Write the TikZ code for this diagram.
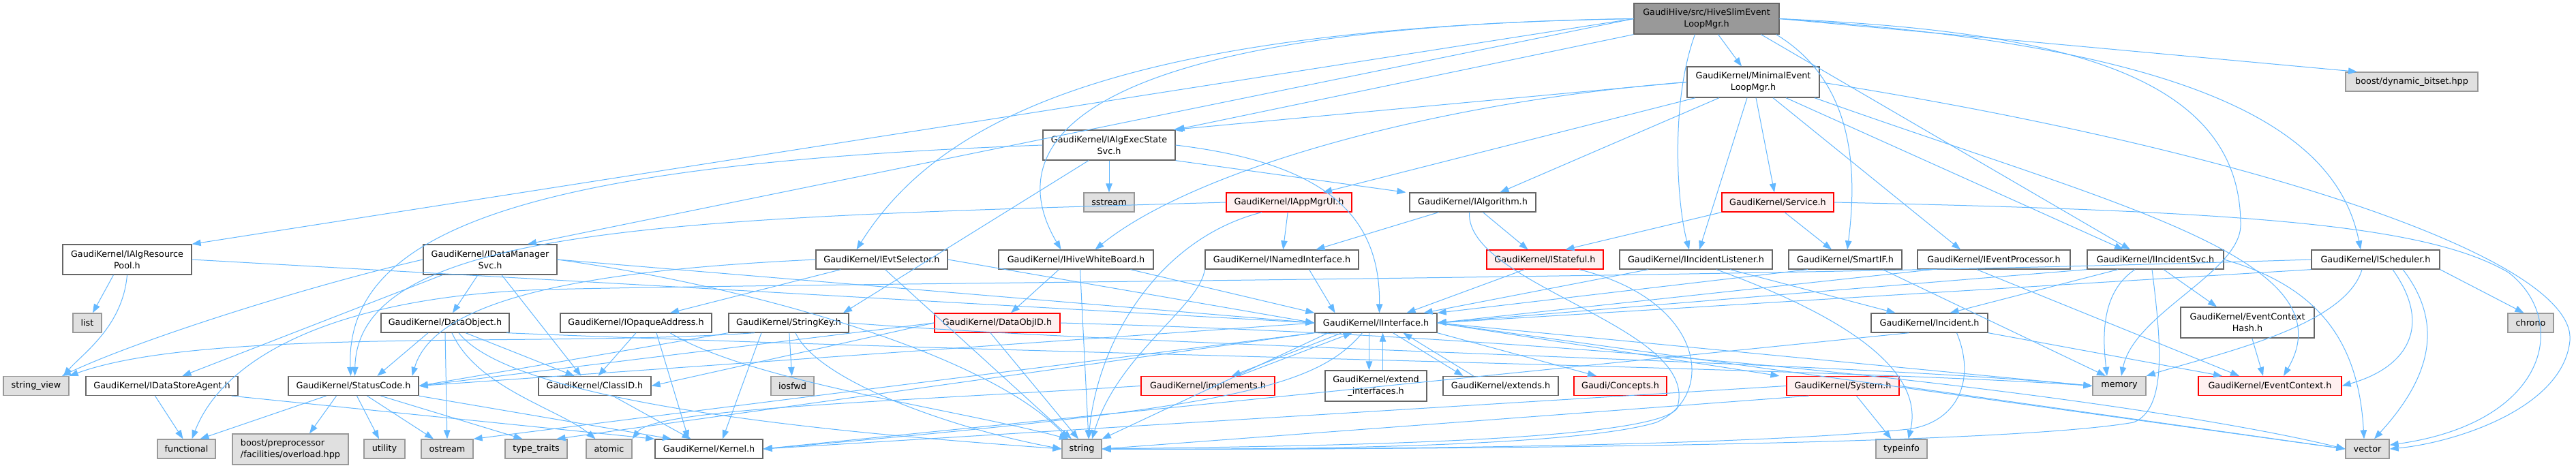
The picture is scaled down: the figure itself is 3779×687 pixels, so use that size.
\documentclass[tikz,border=0pt]{standalone}
\usepackage{fontspec}
\setmainfont{DejaVu Sans}
\usetikzlibrary{arrows.meta}
\definecolor{edgec}{HTML}{63B8FF}
\definecolor{bord}{HTML}{666666}
\definecolor{gbord}{HTML}{999999}
\definecolor{gfill}{HTML}{E0E0E0}
\definecolor{rfill}{HTML}{FFF0F0}
\definecolor{rootfill}{HTML}{999999}
\tikzset{
 base/.style={draw, line width=1.3pt, inner sep=0pt, minimum height=28pt, font=\fontsize{12.8}{17}\selectfont, align=center, text=black},
 wn/.style={base, draw=bord, fill=white},
 gn/.style={base, draw=gbord, fill=gfill},
 rn/.style={base, draw=red, fill=rfill},
 rootn/.style={base, draw=bord, fill=rootfill},
 e/.style={draw=edgec, line width=1.0pt, -{Triangle[length=13pt,width=9.5pt]}},
}
\begin{document}
\begin{tikzpicture}[x=1pt,y=-1pt]
\useasboundingbox (0,0) rectangle (3779,687);
\fill[white] (0,0) rectangle (3779,687);
% ---------- nodes ----------
\node[rootn, minimum width=213, minimum height=45] (hs) at (2503.5,27.5) {GaudiHive/src/HiveSlimEvent\\LoopMgr.h};
\node[wn, minimum width=194, minimum height=45] (mel) at (2572,120.5) {GaudiKernel/MinimalEvent\\LoopMgr.h};
\node[wn, minimum width=194, minimum height=44] (iaes) at (1627,213) {GaudiKernel/IAlgExecState\\Svc.h};
\node[gn, minimum width=74] (sstream) at (1627,297) {sstream};
\node[rn, minimum width=184] (iappmgrui) at (1891,297) {GaudiKernel/IAppMgrUI.h};
\node[wn, minimum width=185] (ialg) at (2160.5,297) {GaudiKernel/IAlgorithm.h};
\node[rn, minimum width=164] (service) at (2608,297) {GaudiKernel/Service.h};
\node[gn, minimum width=194] (dynbitset) at (3538,120) {boost/dynamic\_bitset.hpp};
\node[wn, minimum width=189, minimum height=44] (iars) at (186.5,381) {GaudiKernel/IAlgResource\\Pool.h};
\node[wn, minimum width=196, minimum height=44] (idms) at (719,381) {GaudiKernel/IDataManager\\Svc.h};
\node[wn, minimum width=193] (ievts) at (1293.5,381) {GaudiKernel/IEvtSelector.h};
\node[wn, minimum width=227] (ihwb) at (1578.5,381) {GaudiKernel/IHiveWhiteBoard.h};
\node[wn, minimum width=225] (inamed) at (1880.5,381) {GaudiKernel/INamedInterface.h};
\node[rn, minimum width=171] (istateful) at (2266.5,381) {GaudiKernel/IStateful.h};
\node[wn, minimum width=224] (iil) at (2488,381) {GaudiKernel/IIncidentListener.h};
\node[wn, minimum width=166] (smartif) at (2707,381) {GaudiKernel/SmartIF.h};
\node[wn, minimum width=224] (ievproc) at (2925,381) {GaudiKernel/IEventProcessor.h};
\node[wn, minimum width=200] (iisvc) at (3162,381) {GaudiKernel/IIncidentSvc.h};
\node[wn, minimum width=188] (isched) at (3485,381) {GaudiKernel/IScheduler.h};
\node[gn, minimum width=42] (list) at (128,474) {list};
\node[wn, minimum width=188] (dataobj) at (653,474) {GaudiKernel/DataObject.h};
\node[wn, minimum width=222] (iopaque) at (933,474) {GaudiKernel/IOpaqueAddress.h};
\node[wn, minimum width=176] (stringkey) at (1157,474) {GaudiKernel/StringKey.h};
\node[rn, minimum width=184] (dataobjid) at (1463,474) {GaudiKernel/DataObjID.h};
\node[wn, minimum width=179] (iint) at (2018.5,474) {GaudiKernel/IInterface.h};
\node[wn, minimum width=171] (incident) at (2830.5,474) {GaudiKernel/Incident.h};
\node[wn, minimum width=196, minimum height=45] (ecthash) at (3297,473.5) {GaudiKernel/EventContext\\Hash.h};
\node[gn, minimum width=67] (chrono) at (3712.5,474) {chrono};
\node[gn, minimum width=96] (strview) at (53,566.5) {string\_view};
\node[wn, minimum width=223] (idsa) at (237.5,566.5) {GaudiKernel/IDataStoreAgent.h};
\node[wn, minimum width=191] (statuscode) at (518.5,566.5) {GaudiKernel/StatusCode.h};
\node[wn, minimum width=165] (classid) at (872.5,566.5) {GaudiKernel/ClassID.h};
\node[gn, minimum width=63] (iosfwd) at (1162.5,566.5) {iosfwd};
\node[rn, minimum width=196] (implements) at (1772,566.5) {GaudiKernel/implements.h};
\node[wn, minimum width=149, minimum height=45] (extif) at (2018.5,566.5) {GaudiKernel/extend\\\_interfaces.h};
\node[wn, minimum width=169] (extends) at (2201.5,566.5) {GaudiKernel/extends.h};
\node[rn, minimum width=136] (concepts) at (2377,566.5) {Gaudi/Concepts.h};
\node[rn, minimum width=165] (system) at (2703.5,566.5) {GaudiKernel/System.h};
\node[gn, minimum width=78] (memory) at (3109,566.5) {memory};
\node[rn, minimum width=210] (eventcontext) at (3330,566.5) {GaudiKernel/EventContext.h};
\node[gn, minimum width=85] (functional) at (273.5,659) {functional};
\node[gn, minimum width=170, minimum height=45, align=left] (boostpp) at (426,659.5) {boost/preprocessor\\/facilities/overload.hpp};
\node[gn, minimum width=60] (utility) at (564,659) {utility};
\node[gn, minimum width=76] (ostream) at (656,659) {ostream};
\node[gn, minimum width=91] (typetraits) at (786.5,659) {type\_traits};
\node[gn, minimum width=67] (atomic) at (893.5,659) {atomic};
\node[wn, minimum width=158] (kernel) at (1040,659) {GaudiKernel/Kernel.h};
\node[gn, minimum width=58] (string) at (1587,659) {string};
\node[gn, minimum width=75] (typeinfo) at (2789.5,659) {typeinfo};
\node[gn, minimum width=64] (vector) at (3473,659) {vector};
% ---------- edges from root ----------
\draw[e] (hs.west) -- (iars.north east);
\draw[e] (hs.west) -- ([xshift=55]idms.north);
\draw[e] (hs.west) .. controls (1650,40) and (1380,170) .. ([xshift=-37]ievts.north);
\draw[e] (hs.west) .. controls (1550,40) and (1470,220) .. ([xshift=-22]ihwb.north);
\draw[e] (hs.south west) -- (iaes.north east);
\draw[e] (hs) -- (mel);
\draw[e] ([xshift=-17]hs.south) .. controls (2450,150) and (2460,300) .. ([xshift=-10]iil.north);
\draw[e] ([xshift=-5]hs.south east) .. controls (2720,120) and (2725,250) .. ([xshift=3]smartif.north);
\draw[e] ([xshift=80]hs.south) -- ([xshift=-37]iisvc.north);
\draw[e] (hs.east) .. controls (3250,70) and (3430,200) .. ([xshift=-22]isched.north);
\draw[e] (hs.east) .. controls (3000,45) and (3287,100) .. (3287,330) .. controls (3287,400) and (3130,460) .. ([xshift=3]memory.north);
\draw[e] (hs.east) -- ([xshift=-80]dynbitset.north);
% ---------- MinimalEventLoopMgr ----------
\draw[e] (mel.west) -- ([xshift=-3]iaes.north east);
\draw[e] (mel.west) .. controls (2100,150) and (1750,250) .. ([xshift=28]ihwb.north);
\draw[e] ([xshift=-85]mel.south) -- ([xshift=50]iappmgrui.north);
\draw[e] ([xshift=-50]mel.south) -- ([xshift=40]ialg.north);
\draw[e] ([xshift=-9]mel.south) -- ([xshift=5]iil.north);
\draw[e] ([xshift=4]mel.south) -- ([xshift=-5]service.north);
\draw[e] ([xshift=29]mel.south) -- ([xshift=-49]ievproc.north);
\draw[e] ([xshift=48]mel.south) -- ([xshift=-47]iisvc.north);
\draw[e] ([xshift=90]mel.south) .. controls (3100,300) and (3450,380) .. ([xshift=20]eventcontext.north);
\draw[e] (mel.east) .. controls (3300,220) and (3780,380) .. (3770,500) .. controls (3760,600) and (3600,650) .. (vector.east);
% ---------- IAlgExecStateSvc ----------
\draw[e] (iaes.west) .. controls (800,240) and (505,330) .. ([xshift=-4]statuscode.north);
\draw[e] ([xshift=-30]iaes.south) -- ([xshift=80]stringkey.north);
\draw[e] (iaes) -- (sstream);
\draw[e] (iaes.east) .. controls (1950,240) and (2025,320) .. ([xshift=5]iint.north);
\draw[e] (iaes.south east) -- ([xshift=-5]ialg.north west);
% ---------- IAppMgrUI / IAlgorithm / Service ----------
\draw[e] (iappmgrui.west) .. controls (1000,320) and (525,330) .. ([xshift=2]statuscode.north);
\draw[e] ([xshift=-40]iappmgrui.south) .. controls (1700,350) and (1610,500) .. ([xshift=10]string.north);
\draw[e] (iappmgrui) -- (inamed);
\draw[e] ([xshift=-50]ialg.south) -- ([xshift=50]inamed.north);
\draw[e] ([xshift=15]ialg.south) -- ([xshift=-25]istateful.north);
\draw[e] ([xshift=-5]ialg.south) .. controls (2150,420) and (2500,480) .. (2460,600) .. controls (2420,650) and (1900,655) .. (string.east);
\draw[e] (service.south west) -- ([xshift=30]istateful.north);
\draw[e] ([xshift=10]service.south) -- ([xshift=-20]smartif.north);
\draw[e] (service.east) .. controls (3300,310) and (3560,330) .. (3680,400) .. controls (3770,470) and (3740,620) .. (vector.10);
% ---------- second row ----------
\draw[e] (inamed.south west) .. controls (1760,450) and (1640,520) .. ([xshift=15]string.north);
\draw[e] ([xshift=40]inamed.south) -- ([xshift=-60]iint.north);
\draw[e] ([xshift=-30]istateful.south) -- ([xshift=45]iint.north);
\draw[e] ([xshift=50]istateful.south) .. controls (2500,440) and (2520,580) .. (2430,620) .. controls (2300,660) and (1800,660) .. (string.east);
\draw[e] ([xshift=-70]iil.south) -- ([xshift=70]iint.north);
\draw[e] ([xshift=50]iil.south) -- ([xshift=-50]incident.north);
\draw[e] ([xshift=30]iil.south) .. controls (2750,480) and (2820,560) .. ([xshift=10]typeinfo.north);
\draw[e] ([xshift=-55]smartif.south) -- (iint.north east);
\draw[e] ([xshift=55]smartif.south) -- ([xshift=-20]memory.north);
\draw[e] ([xshift=-90]ievproc.south) -- (iint.east);
\draw[e] ([xshift=-25]ievproc.south) -- ([xshift=-45]eventcontext.north);
\draw[e] (iisvc.south west) -- (iint.east);
\draw[e] ([xshift=-55]iisvc.south) -- ([xshift=30]incident.north);
\draw[e] ([xshift=-30]iisvc.south) .. controls (3080,430) and (3085,500) .. ([xshift=-18]memory.north);
\draw[e] ([xshift=-5]iisvc.south) .. controls (3170,500) and (3180,600) .. (3130,620) .. controls (2900,660) and (1800,660) .. (string.east);
\draw[e] ([xshift=12]iisvc.south) -- ([xshift=-45]ecthash.north);
\draw[e] (iisvc.east) .. controls (3400,420) and (3460,500) .. ([xshift=-5]vector.north);
\draw[e] (isched.west) .. controls (2500,410) and (1200,415) .. (800,425) .. controls (500,435) and (330,520) .. ([xshift=8]functional.north);
\draw[e] (isched.south west) -- (iint.east);
\draw[e] ([xshift=-20]isched.south) .. controls (3440,480) and (3250,520) .. (memory.north east);
\draw[e] ([xshift=25]isched.south) .. controls (3570,480) and (3530,540) .. (eventcontext.east);
\draw[e] ([xshift=40]isched.south) .. controls (3590,480) and (3560,560) .. ([xshift=10]vector.north);
\draw[e] (isched.south east) -- ([xshift=-10]chrono.north);
\draw[e] ([xshift=-20]iars.south) -- (list);
\draw[e] (iars.south) .. controls (180,480) and (120,520) .. ([xshift=40]strview.north);
\draw[e] (iars.east) -- (iint.west);
\draw[e] (idms.west) .. controls (450,420) and (200,500) .. ([xshift=38]strview.north);
\draw[e] ([xshift=-70]idms.south) -- ([xshift=30]idsa.north);
\draw[e] ([xshift=-18]idms.south) -- ([xshift=11]dataobj.north);
\draw[e] ([xshift=17]idms.south) -- ([xshift=-20]classid.north);
\draw[e] (idms.east) -- (iint.west);
\draw[e] (idms.east) .. controls (1100,420) and (1450,520) .. ([xshift=-20]string.north);
\draw[e] ([xshift=-60]ievts.south) -- ([xshift=50]iopaque.north);
\draw[e] (ievts.west) .. controls (900,395) and (640,430) .. ([xshift=-10]statuscode.north east);
\draw[e] ([xshift=5]ievts.south) -- ([xshift=-15]string.north);
\draw[e] (ievts.east) -- (iint.west);
\draw[e] ([xshift=-25]ihwb.south) -- ([xshift=20]dataobjid.north);
\draw[e] ([xshift=6]ihwb.south) -- ([xshift=10]string.north);
\draw[e] ([xshift=80]ihwb.south) -- (iint.north west);
% ---------- third row ----------
\draw[e] ([xshift=-25]dataobj.south) -- ([xshift=35]statuscode.north);
\draw[e] (dataobj.south) -- (ostream.north);
\draw[e] ([xshift=10]dataobj.south) .. controls (700,570) and (820,600) .. ([xshift=-20]atomic.north);
\draw[e] ([xshift=30]dataobj.south) -- ([xshift=-30]classid.north);
\draw[e] ([xshift=20]dataobj.south) .. controls (760,600) and (1300,640) .. (string.west);
\draw[e] ([xshift=90]dataobj.south) .. controls (1500,520) and (2700,540) .. (memory.west);
\draw[e] (iopaque.south) -- ([xshift=5]classid.north);
\draw[e] ([xshift=30]iopaque.south) -- ([xshift=-30]kernel.north);
\draw[e] ([xshift=50]iopaque.south) .. controls (1100,560) and (1400,600) .. ([xshift=-20]string.north);
\draw[e] (stringkey.south west) -- (statuscode.east);
\draw[e] ([xshift=-50]stringkey.south) .. controls (800,510) and (300,480) .. (strview.north east);
\draw[e] ([xshift=-40]stringkey.south) -- ([xshift=20]kernel.north);
\draw[e] (stringkey) -- (iosfwd);
\draw[e] ([xshift=10]stringkey.south) .. controls (1200,560) and (1400,630) .. (string.west);
\draw[e] (stringkey.east) .. controls (1700,510) and (2700,530) .. (memory.west);
\draw[e] (dataobjid.west) -- (statuscode.east);
\draw[e] (dataobjid.west) -- (classid.east);
\draw[e] ([xshift=-10]dataobjid.south) -- ([xshift=-5]string.north);
\draw[e] (dataobjid.east) .. controls (2500,500) and (3200,600) .. (vector.west);
\draw[e] ([xshift=-10]iint.south) -- ([xshift=-10]extif.north);
\draw[e] ([xshift=10]extif.north) -- ([xshift=10]iint.south);
\draw[e] ([xshift=25]iint.south) -- ([xshift=-55]extends.north);
\draw[e] ([xshift=-40]extends.north) -- ([xshift=40]iint.south);
\draw[e] ([xshift=-50]iint.south) -- ([xshift=35]implements.north);
\draw[e] ([xshift=45]implements.north) -- ([xshift=-35]iint.south);
\draw[e] (iint.south east) -- ([xshift=-35]concepts.north);
\draw[e] (iint.east) -- ([xshift=-10]system.north west);
\draw[e] (iint.west) -- (statuscode.east);
\draw[e] ([xshift=-20]iint.south) .. controls (1930,570) and (1800,600) .. (kernel.east);
\draw[e] (iint.south west) -- (ostream.north east);
\draw[e] (iint.south west) -- ([xshift=30]typetraits.north);
\draw[e] ([xshift=-70]iint.south) -- (string.north east);
\draw[e] (iint.east) -- (memory.west);
\draw[e] (iint.east) -- (vector.west);
\draw[e] (system.west) -- (kernel.east);
\draw[e] ([xshift=-50]system.south) -- (string.east);
\draw[e] ([xshift=20]system.south) -- ([xshift=-15]typeinfo.north);
\draw[e] (system.east) -- (vector.west);
\draw[e] (implements.west) .. controls (1300,590) and (960,600) .. (atomic.north east);
\draw[e] (incident.south east) -- ([xshift=-70]eventcontext.north);
\draw[e] ([xshift=40]incident.south) .. controls (2900,560) and (2870,620) .. (2800,630) .. controls (2500,660) and (1800,660) .. (string.east);
\draw[e] ([xshift=-30]incident.south) -- (kernel.east);
\draw[e] (ecthash) -- ([xshift=-10]eventcontext.north);
\draw[e] ([xshift=-10]idsa.south) -- ([xshift=-5]functional.north);
\draw[e] ([xshift=-10]idsa.south east) -- (kernel.north west);
\draw[e] ([xshift=-40]statuscode.south) -- ([xshift=20]functional.north);
\draw[e] ([xshift=-25]statuscode.south) -- ([xshift=28]boostpp.north);
\draw[e] ([xshift=5]statuscode.south) -- ([xshift=-8]utility.north);
\draw[e] ([xshift=20]statuscode.south) -- ([xshift=-20]ostream.north);
\draw[e] ([xshift=40]statuscode.south) -- ([xshift=-20]typetraits.north);
\draw[e] (statuscode.south east) -- ([xshift=-55]kernel.north);
\draw[e] (classid) -- (kernel);
\end{tikzpicture}
\end{document}
